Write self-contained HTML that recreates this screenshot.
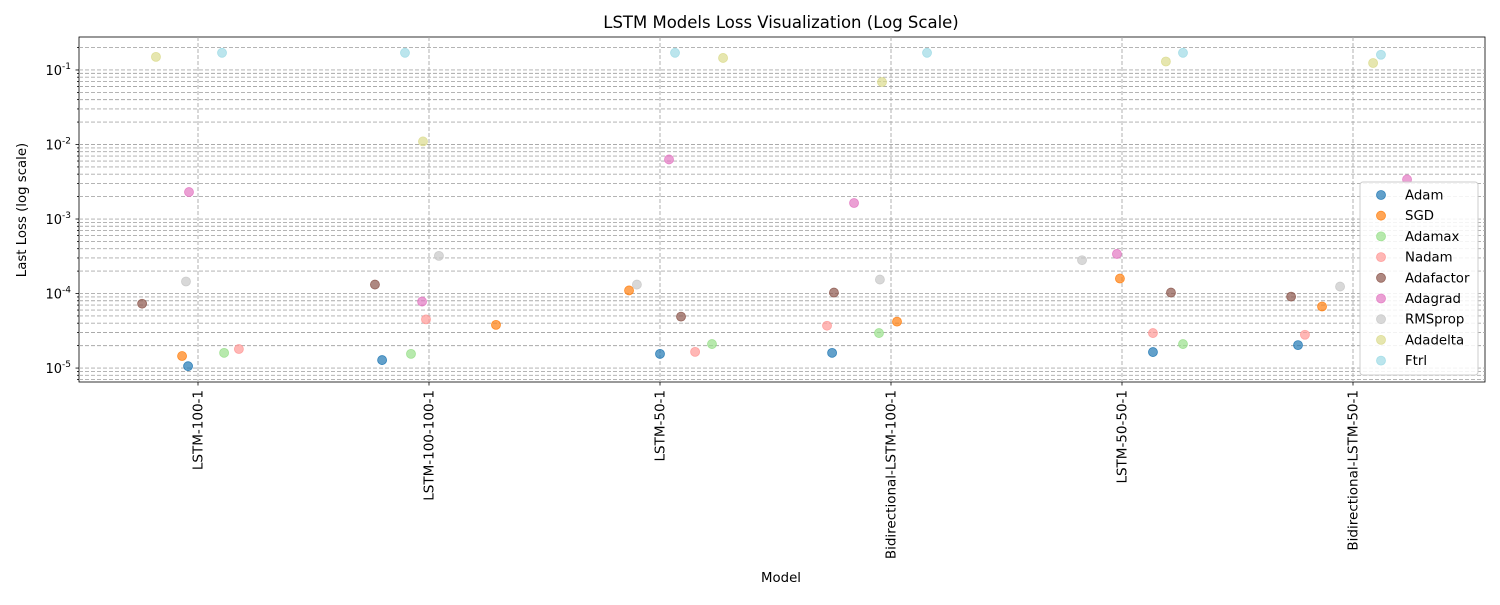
<!DOCTYPE html>
<html><head><meta charset="utf-8"><style>
body{margin:0;background:#fff;font-family:"Liberation Sans","DejaVu Sans",sans-serif;}
svg text{font-family:"DejaVu Sans","Liberation Sans",sans-serif;}
</style></head><body>
<svg id="chart" width="1500" height="600" xmlns="http://www.w3.org/2000/svg"></svg>
<script>
const categories=["LSTM-100-1","LSTM-100-100-1","LSTM-50-1","Bidirectional-LSTM-100-1","LSTM-50-50-1","Bidirectional-LSTM-50-1"];
const optimizers=["Adam","SGD","Adamax","Nadam","Adafactor","Adagrad","RMSprop","Adadelta","Ftrl"];
const colors=["#1f77b4","#ff7f0e","#98df8a","#ff9896","#8c564b","#e377c2","#c7c7c7","#dbdb8d","#9edae5"];
// loss values per optimizer, one per category
const lossAdam=[1.06e-5,1.28e-5,1.55e-5,1.6e-5,1.64e-5,2.03e-5];
const lossSGD=[1.45e-5,3.8e-5,1.1e-4,4.2e-5,1.59e-4,6.7e-5];
const lossAdamax=[1.6e-5,1.55e-5,2.1e-5,2.95e-5,2.1e-5,null];
const lossNadam=[1.8e-5,4.5e-5,1.65e-5,3.7e-5,2.95e-5,2.8e-5];
const lossAdafactor=[7.3e-5,1.32e-4,4.9e-5,1.03e-4,1.03e-4,9.1e-5];
const lossAdagrad=[2.3e-3,7.8e-5,6.3e-3,1.64e-3,3.4e-4,3.4e-3];
const lossRMSprop=[1.45e-4,3.2e-4,1.32e-4,1.54e-4,2.8e-4,1.24e-4];
const lossAdadelta=[0.15,0.011,0.145,0.069,0.13,0.124];
const lossFtrl=[0.17,0.17,0.17,0.17,0.17,0.16];
// jitter offsets in category units
const jitAdam=[-0.043,-0.203,0,-0.255,0.134,-0.238];
const jitSGD=[-0.069,0.29,-0.134,0.026,-0.009,-0.134];
const jitAdamax=[0.113,-0.078,0.225,-0.052,0.264,0.2];
const jitNadam=[0.177,-0.013,0.152,-0.277,0.134,-0.208];
const jitAdafactor=[-0.242,-0.234,0.091,-0.247,0.212,-0.268];
const jitAdagrad=[-0.039,-0.03,0.039,-0.16,-0.022,0.234];
const jitRMSprop=[-0.052,0.043,-0.1,-0.048,-0.173,-0.056];
const jitAdadelta=[-0.182,-0.026,0.273,-0.039,0.19,0.087];
const jitFtrl=[0.104,-0.104,0.065,0.156,0.264,0.121];
const losses=[lossAdam,lossSGD,lossAdamax,lossNadam,lossAdafactor,lossAdagrad,lossRMSprop,lossAdadelta,lossFtrl];
const jits=[jitAdam,jitSGD,jitAdamax,jitNadam,jitAdafactor,jitAdagrad,jitRMSprop,jitAdadelta,jitFtrl];
const yTickExp=[-5,-4,-3,-2,-1];

const svg=document.getElementById('chart');
const NS="http://www.w3.org/2000/svg";
const L=79,R=1485,T=37,B=382;
const yMin=Math.log10(6.5e-6),yMax=Math.log10(0.277);
function y(v){return B-(Math.log10(v)-yMin)/(yMax-yMin)*(B-T);}
function x(i){return 198+i*231;}
function mk(tag,attrs,parent){const e=document.createElementNS(NS,tag);for(const k in attrs)e.setAttribute(k,attrs[k]);(parent||svg).appendChild(e);return e;}

let e=mk('rect',{x:L,y:T,width:R-L,height:B-T,fill:'#fff',stroke:'#000','stroke-width':0.8});


for(let k=-6;k<=0;k++){for(let m=1;m<=9;m++){const v=m*Math.pow(10,k);const yy=y(v);if(yy<T||yy>B)continue;
 e=mk('line',{x1:L,x2:R,y1:yy,y2:yy,stroke:'#aaaaaa','stroke-width':0.9,'stroke-dasharray':'4,2'});
 
 
 mk('line',{x1:L-(m==1?3.5:2),x2:L,y1:yy,y2:yy,stroke:'#000','stroke-width':0.8});}}
categories.forEach((c,i)=>{
 e=mk('line',{x1:x(i),x2:x(i),y1:T,y2:B,stroke:'#aaaaaa','stroke-width':0.9,'stroke-dasharray':'4,2'});
 
 
 mk('line',{x1:x(i),x2:x(i),y1:B,y2:B+3.5,stroke:'#000','stroke-width':0.8});
 e=mk('text',{x:0,y:0,'font-size':13.5,'text-anchor':'end',transform:`translate(${x(i)+4.5},${B+8}) rotate(-90)`});
 e.textContent=c;
 
 
});
yTickExp.forEach(k=>{
 const yy=y(Math.pow(10,k));
 e=mk('text',{x:L-8,y:yy+5,'font-size':13,'text-anchor':'end'});
 e.innerHTML='10<tspan dy="-6" font-size="9">'+k+'</tspan>';
 
 
});
losses.forEach((arr,s)=>{arr.forEach((v,i)=>{if(v==null)return;
 e=mk('circle',{cx:x(i)+jits[s][i]*231,cy:y(v),r:4.5,fill:colors[s],'fill-opacity':0.7,stroke:colors[s],'stroke-opacity':0.85,'stroke-width':0.8});
 
 
});});
const lg=mk('g',{});


mk('rect',{x:1360,y:182,width:118,height:193,rx:3,fill:'#fff','fill-opacity':0.85,stroke:'#ccc'},lg);
optimizers.forEach((o,s)=>{const yy=195+s*20.7;
 e=mk('circle',{cx:1381,cy:yy,r:4.5,fill:colors[s],'fill-opacity':0.7,stroke:colors[s],'stroke-opacity':0.85,'stroke-width':0.8},lg);
 
 
 e=mk('text',{x:1405,y:yy+4.5,'font-size':13.3},lg);e.textContent=o;
 
 
});
e=mk('text',{x:781,y:28,'font-size':16.5,'text-anchor':'middle'});e.textContent='LSTM Models Loss Visualization (Log Scale)';


e=mk('text',{x:781,y:582,'font-size':13.3,'text-anchor':'middle'});e.textContent='Model';


e=mk('text',{x:0,y:0,'font-size':13.3,'text-anchor':'middle',transform:'translate(26,210) rotate(-90)'});e.textContent='Last Loss (log scale)';


</script>
</body></html>
